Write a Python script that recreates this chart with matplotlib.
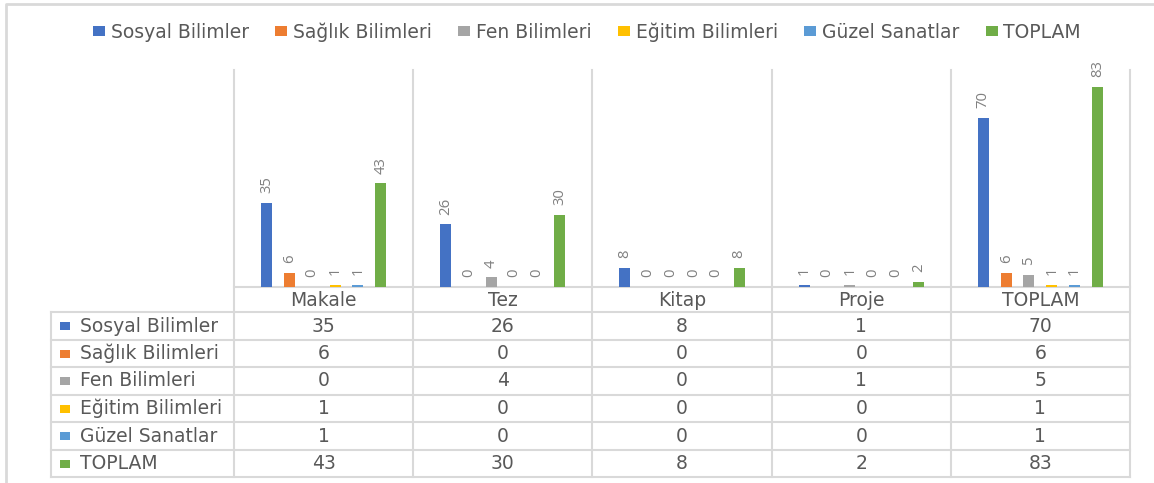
import matplotlib
matplotlib.use("Agg")
import matplotlib.pyplot as plt
from matplotlib.patches import Patch

plt.rcParams['font.family'] = ['DejaVu Sans']

categories = ["Makale", "Tez", "Kitap", "Proje", "TOPLAM"]
series = ["Sosyal Bilimler", "Sağlık Bilimleri", "Fen Bilimleri",
          "Eğitim Bilimleri", "Güzel Sanatlar", "TOPLAM"]
sosyal = [35, 26, 8, 1, 70]
saglik = [6, 0, 0, 0, 6]
fen = [0, 4, 0, 1, 5]
egitim = [1, 0, 0, 0, 1]
guzel = [1, 0, 0, 0, 1]
toplam = [43, 30, 8, 2, 83]
values = [sosyal, saglik, fen, egitim, guzel, toplam]
colors = ["#4472C4", "#ED7D31", "#A5A5A5", "#FFC000", "#5B9BD5", "#70AD47"]

W, H = 1154, 483
L, R = 234, 1130        # plot area, pixels
TOP, BASE = 70, 287
TL = 51                 # left edge of the data table
rows = [287, 312, 340, 367, 395, 422, 450, 477]
grid = "#D9D9D9"
txt = "#595959"
fs = 13.5

fig = plt.figure(figsize=(W / 100, H / 100), dpi=100, facecolor="white")

# background layer in pixel coordinates: frame, grid and table
ov = fig.add_axes([0, 0, 1, 1], zorder=0)
ov.set_xlim(0, W)
ov.set_ylim(H, 0)
ov.axis("off")

ov.plot([6, 6, W], [H, 4, 4], color=grid, lw=2, solid_capstyle="butt")

catw = (R - L) / len(categories)
for i in range(len(categories) + 1):
    x = L + i * catw
    ov.plot([x, x], [TOP, rows[-1]], color=grid, lw=1.5)
ov.plot([TL, TL], [rows[1], rows[-1]], color=grid, lw=1.5)
ov.plot([L, R], [rows[0], rows[0]], color=grid, lw=1.5)
for y in rows[1:]:
    ov.plot([TL, R], [y, y], color=grid, lw=1.5)

for i, c in enumerate(categories):
    ov.text(L + (i + 0.5) * catw, (rows[0] + rows[1]) / 2 + 1, c,
            ha="center", va="center", fontsize=fs, color=txt)

for j, (name, vals, col) in enumerate(zip(series, values, colors)):
    yc = (rows[j + 1] + rows[j + 2]) / 2
    ov.add_patch(plt.Rectangle((60, yc - 4), 10, 8, color=col, lw=0))
    ov.text(80, yc, name, ha="left", va="center", fontsize=fs, color=txt)
    for i, v in enumerate(vals):
        ov.text(L + (i + 0.5) * catw, yc, str(v), ha="center", va="center",
                fontsize=fs, color=txt)

# clustered columns
ax = fig.add_axes([L / W, 1 - BASE / H, (R - L) / W, (BASE - TOP) / H], zorder=1)
ax.patch.set_alpha(0)
ax.set_xlim(0, len(categories))
ax.set_ylim(0, 90)
ax.axis("off")

step = 0.1274
bw = 0.0615
for j, (vals, col) in enumerate(zip(values, colors)):
    xs = [i + 0.5 + (j - 2.5) * step for i in range(len(categories))]
    bars = ax.bar(xs, vals, width=bw, color=col, linewidth=0)
    for b, v in zip(bars, vals):
        ax.annotate(str(v), (b.get_x() + b.get_width() / 2, v),
                    xytext=(0, 7), textcoords="offset points",
                    ha="center", va="bottom", rotation=90,
                    family=["Open Sans", "DejaVu Sans"],
                    fontsize=10.7, color="#808080", annotation_clip=False)

handles = [Patch(facecolor=c, edgecolor="none") for c in colors]
fig.legend(handles, series, loc="center", bbox_to_anchor=(587 / W, 1 - 32 / H),
           ncol=6, frameon=False, fontsize=fs, handlelength=0.65,
           handleheight=0.45, handletextpad=0.3, columnspacing=1.4,
           labelcolor=txt, borderpad=0, borderaxespad=0)

fig.savefig("out.png", dpi=100, facecolor="white")
